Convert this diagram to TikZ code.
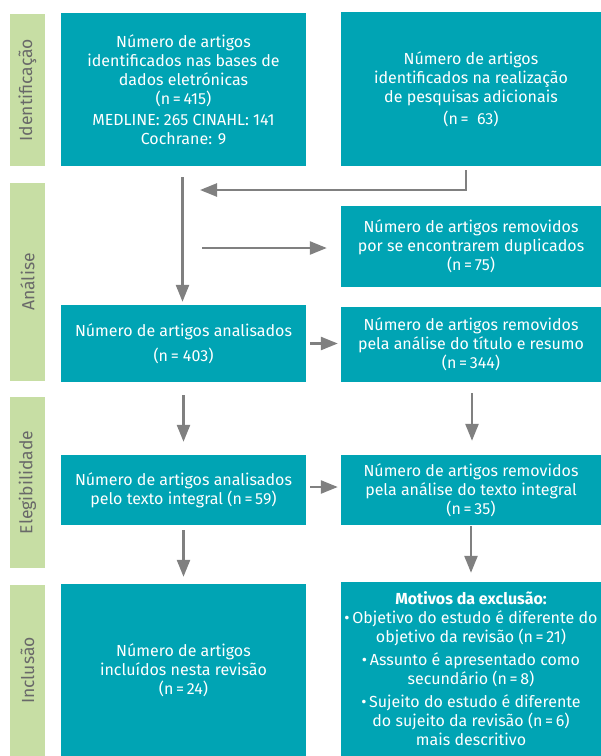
\documentclass[tikz,border=0pt]{standalone}
\usepackage{fontspec}
\setmainfont{Fira Sans}
\usetikzlibrary{arrows.meta,calc}
\definecolor{tealbox}{RGB}{0,164,180}
\definecolor{phasegreen}{RGB}{199,222,164}
\definecolor{arrgrey}{RGB}{128,128,128}
\definecolor{labgrey}{RGB}{105,105,105}
\begin{document}
\begin{tikzpicture}[x=1pt,y=-1pt,
  box/.style={fill=tealbox, text=white, align=center, inner sep=0pt,
    font=\fontsize{16}{19}\selectfont},
  lbox/.style={box, minimum width=245pt},
  rbox/.style={box, minimum width=260pt},
  phasebar/.style={fill=phasegreen, rotate=90, minimum height=35pt, inner sep=0pt,
    text=labgrey, font=\fontsize{17.5}{20}\selectfont},
  arr/.style={draw=arrgrey, line width=2.5pt, -{Triangle[length=17pt,width=13pt]}}]
\useasboundingbox (0,0) rectangle (601,756);

% phase bars
\node[phasebar, minimum width=152pt] (p1) at (27.5,90) {Identificação};
\node[phasebar, minimum width=198pt] (p2) at (27.5,282) {Análise};
\node[phasebar, minimum width=171pt] (p3) at (27.5,482.5) {Elegibilidade};
\node[phasebar, minimum width=171pt] (p4) at (27.5,670.5) {Inclusão};

% boxes
\node[lbox, minimum height=153pt] (b1) at (183.5,89.5) {Número de artigos\\ identificados nas bases de\\ dados eletrónicas\\ (n\,=\,415)\\[2pt] MEDLINE: 265 CINAHL: 141\\ Cochrane: 9};
\node[rbox, minimum height=154pt] (b2) at (471,89) {Número de artigos\\ identificados na realização\\ de pesquisas adicionais\\[3pt] (n\,=\ \ 63)};
\node[rbox, minimum height=81pt] (b3) at (471,246.5) {Número de artigos removidos\\ por se encontrarem duplicados\\ (n\,=\,75)};
\node[lbox, minimum height=77pt] (b4) at (183.5,343.5) {Número de artigos analisados\\[6pt] (n\,=\ 403)};
\node[rbox, minimum height=75pt] (b5) at (471,344.5) {Número de artigos removidos\\ pela análise do título e resumo\\ (n\,=\,344)};
\node[lbox, minimum height=70pt] (b6) at (183.5,490) {Número de artigos analisados\\ pelo texto integral (n\,=\,59)};
\node[rbox, minimum height=70pt] (b7) at (471,490) {Número de artigos removidos\\ pela análise do texto integral\\ (n\,=\,35)};
\node[lbox, minimum height=172pt] (b8) at (183.5,670) {Número de artigos\\ incluídos nesta revisão\\ (n\,=\,24)};
\node[rbox, minimum height=174pt] (b9) at (471,669) {\textbf{Motivos da exclusão:}\\ \textbullet\,Objetivo do estudo é diferente do\\ objetivo da revisão (n\,=\,21)\\[4pt] \textbullet\,Assunto é apresentado como\\ secundário (n\,=\,8)\\[4pt] \textbullet\,Sujeito do estudo é diferente\\ do sujeito da revisão (n\,=\,6)\\ mais descritivo};

% connectors
\coordinate (m1) at (200,190);
\coordinate (d0) at (202,248);
\draw[arr] ($(b1.south)+(-1,11)$) -- ($(b4.north)+(-1,-3)$);
\draw[arr] ($(b2.south)+(-5,4)$) |- (m1);
\draw[arr] (d0) -- ($(b3.west)+(-14,1.5)$);
\draw[arr] ($(b4.east)+(4,0)$) -- ($(b5.west)+(-3,-1)$);
\draw[arr] ($(b4.south)+(0,13)$) -- ($(b6.north)+(0,-13)$);
\draw[arr] ($(b5.south)+(1,11)$) -- ($(b7.north)+(1,-14)$);
\draw[arr] ($(b6.east)+(4,-3)$) -- ($(b7.west)+(-3,-3)$);
\draw[arr] ($(b6.south)+(0,5)$) -- ($(b8.north)+(0,-7)$);
\draw[arr] ($(b7.south)+(0,1)$) -- ($(b9.north)+(0,-9)$);
\end{tikzpicture}
\end{document}
